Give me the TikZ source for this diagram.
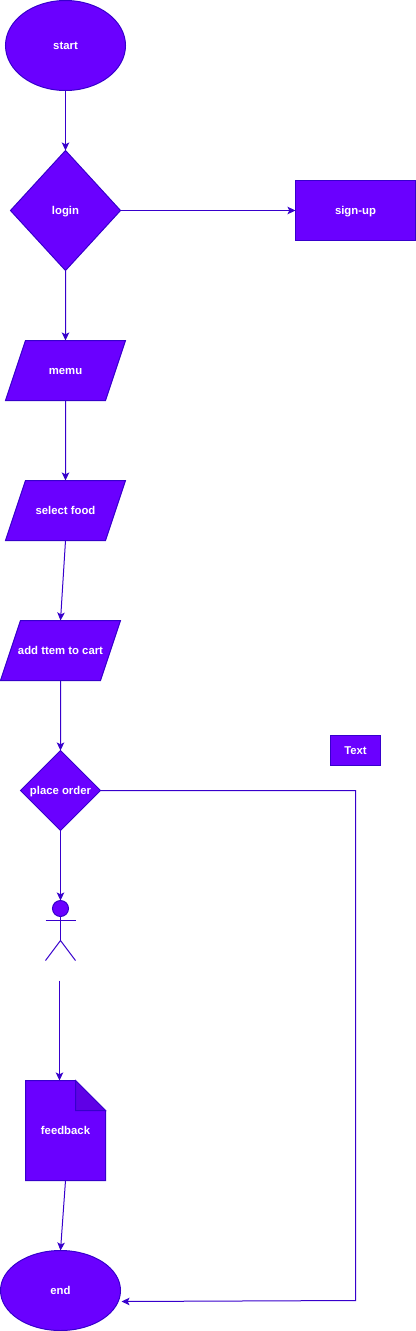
\documentclass[tikz,border=0pt]{standalone}
\usepackage{fontspec}
\setmainfont{Liberation Sans}
\usetikzlibrary{shapes.geometric,arrows.meta}
\definecolor{vfill}{HTML}{6A00FF}
\definecolor{vline}{HTML}{3700CC}
\definecolor{vfold}{HTML}{5F00E6}
\tikzset{
  base/.style={draw=vline,fill=vfill,line width=0.75pt,text=white,inner sep=0pt,outer sep=0pt,text height=8pt,text depth=2pt,font=\bfseries\fontsize{8.5}{10}\selectfont},
  oval/.style={base,ellipse},
  dia/.style={base,diamond},
  para/.style={base,trapezium,trapezium left angle=71.57,trapezium right angle=108.43,trapezium stretches body=true,minimum width=90pt,text height=25.5pt,text depth=19.5pt},
  box/.style={base,rectangle},
  conn/.style={draw=vline,line width=0.75pt,-{Stealth[length=6pt,width=5.6pt,inset=1.4pt]}},
  limb/.style={draw=vline,line width=0.75pt},
}
\begin{document}
\begin{tikzpicture}[x=0.75pt,y=-0.75pt]
\useasboundingbox (0,0) rectangle (416,1331);
\begin{scope}[shift={(0.5,0.5)}]
\node[oval,minimum width=90pt,minimum height=67.5pt] (start) at (65,45) {start};
\node[dia,shape aspect=0.9167,minimum width=82.5pt,minimum height=90pt] (login) at (65,210) {login};
\node[box,minimum width=90pt,minimum height=45pt] (signup) at (355,210) {sign-up};
\node[para] (memu) at (65,370) {memu};
\node[para] (select) at (65,510) {\makebox[40pt][c]{select food}};
\node[para] (add) at (60,650) {\makebox[60pt][c]{add ttem to cart}};
\node[dia,shape aspect=1,minimum width=60pt,minimum height=60pt] (place) at (60,790) {place order};
\node[box,minimum width=37.5pt,minimum height=22.5pt] (text) at (355,750) {Text};
% actor
\node[circle,draw=vline,fill=vfill,line width=0.75pt,minimum size=12pt,inner sep=0pt,outer sep=0pt] (head) at (60,908) {};
\coordinate (armL) at (45,920);
\coordinate (armR) at (75,920);
\coordinate (hip) at (60,940);
\coordinate (legL) at (45,960);
\coordinate (legR) at (75,960);
\draw[limb] (head.south) -- (hip);
\draw[limb] (armL) -- (armR);
\draw[limb] (legL) -- (hip) -- (legR);
% feedback
\coordinate (fA) at (25,1080);
\coordinate (fB) at (75,1080);
\coordinate (fC) at (105,1110);
\coordinate (fD) at (105,1180);
\coordinate (fE) at (25,1180);
\coordinate (fF) at (75,1110);
\draw[draw=vline,fill=vfill,line width=0.75pt] (fA) -- (fB) -- (fC) -- (fD) -- (fE) -- cycle;
\draw[draw=vline,fill=vfold,line width=0.75pt] (fB) -- (fC) -- (fF) -- cycle;
\node[text=white,inner sep=0pt,outer sep=0pt,text height=8pt,text depth=2pt,font=\bfseries\fontsize{8.5}{10}\selectfont,minimum width=60pt,minimum height=75pt] (feedback) at (65,1130) {feedback};
\node[oval,minimum width=90pt,minimum height=60pt] (end) at (60,1290) {end};
% connectors
\coordinate (actorOut) at (59,980);
\coordinate (docIn) at (59,1080);
\coordinate (endIn) at (121,1301);
\coordinate (bendA) at (355,790);
\coordinate (bendB) at (355,1300);
\draw[conn] (start.south) -- (login.north);
\draw[conn] (login.east) -- (signup.west);
\draw[conn] (login.south) -- (memu.north);
\draw[conn] (memu.south) -- (select.north);
\draw[conn] (select.south) -- (add.north);
\draw[conn] (add.south) -- (place.north);
\draw[conn] (place.south) -- (head.north);
\draw[conn] (actorOut) -- (docIn);
\draw[conn] (feedback.south) -- (end.north);
\draw[conn] (place.east) -- (bendA) -- (bendB) -- (endIn);
\end{scope}
\end{tikzpicture}
\end{document}
